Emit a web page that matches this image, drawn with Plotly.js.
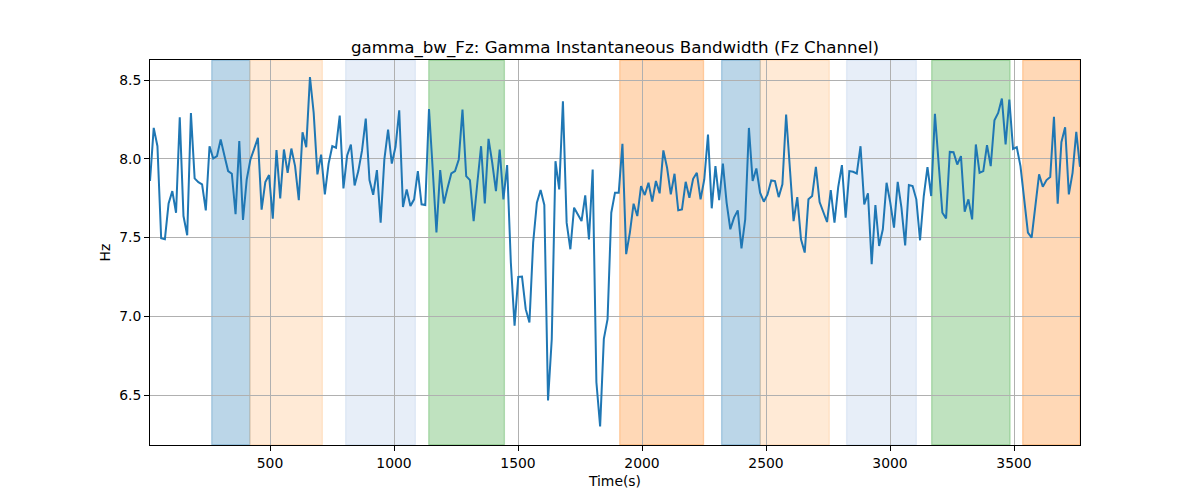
<!DOCTYPE html>
<html>
<head>
<meta charset="utf-8">
<script src="https://cdn.plot.ly/plotly-3.0.1.min.js"></script>
<style>html,body{margin:0;padding:0;background:#fff;}#chart{width:1200px;height:500px;}</style>
</head>
<body>
<div id="chart"></div>
<script>
// Sampling of the time axis (seconds)
var timeStart = 16;
var timeStep = 15;

// Gamma instantaneous bandwidth values (Hz)
var bandwidthHz = [
7.859,8.196,8.080,7.496,7.490,7.717,7.795,7.658,8.264,7.637,
7.515,8.291,7.876,7.852,7.838,7.673,8.080,8.002,8.017,8.122,
8.021,7.922,7.905,7.648,8.112,7.612,7.869,7.996,8.063,8.133,
7.677,7.852,7.897,7.620,8.055,7.749,8.059,7.911,8.065,7.954,
7.738,8.169,8.074,8.519,8.291,7.901,8.027,7.774,7.968,8.080,
8.070,8.274,7.812,8.021,8.091,7.831,7.922,8.053,8.255,7.865,
7.772,7.928,7.595,7.996,8.186,7.970,8.076,8.308,7.694,7.806,
7.700,7.743,7.922,7.711,7.707,8.316,7.932,7.532,7.928,7.717,
7.816,7.907,7.922,7.996,8.312,7.890,7.865,7.605,7.848,8.080,
7.717,8.127,7.975,7.795,8.059,7.743,7.960,7.342,6.941,7.251,
7.253,7.046,6.962,7.468,7.722,7.802,7.707,6.466,6.857,7.985,
7.806,8.365,7.595,7.426,7.690,7.648,7.605,7.768,7.489,7.932,
6.582,6.302,6.857,6.983,7.658,7.785,7.785,8.095,7.395,7.532,
7.715,7.637,7.827,7.770,7.848,7.728,7.859,7.781,8.053,7.943,
7.774,7.905,7.673,7.679,7.854,7.753,7.873,7.911,7.743,7.869,
8.154,7.686,7.954,7.738,7.970,7.722,7.553,7.627,7.673,7.432,
7.616,8.196,7.859,7.939,7.785,7.728,7.774,7.863,7.859,7.757,
7.838,8.281,7.932,7.605,7.757,7.489,7.405,7.743,7.764,7.949,
7.726,7.658,7.599,7.802,7.595,7.820,7.960,7.627,7.922,7.918,
7.907,8.080,7.711,7.781,7.331,7.707,7.447,7.553,7.848,7.722,
7.563,7.854,7.690,7.451,7.833,7.827,7.743,7.483,7.764,7.947,
7.764,8.285,7.996,7.658,7.622,8.044,8.042,7.964,8.017,7.665,
7.743,7.616,8.091,7.911,7.922,8.087,7.954,8.245,8.291,8.382,
8.091,8.376,8.063,8.074,7.954,7.743,7.532,7.500,7.717,7.901,
7.823,7.865,7.884,8.266,7.715,8.105,8.200,7.774,7.911,8.171,
7.949
];

// Shaded intervals (seconds) and their colours
var spanStart = [265, 419, 805, 1140, 1910, 2321, 2477, 2825, 3168, 3535];
var spanEnd   = [419, 711, 1086, 1445, 2248, 2477, 2755, 3106, 3484, 3766];
var spanColor = [
  'rgba(31,119,180,0.3)', 'rgba(255,187,120,0.3)', 'rgba(174,199,232,0.3)',
  'rgba(44,160,44,0.3)', 'rgba(255,127,14,0.3)', 'rgba(31,119,180,0.3)',
  'rgba(255,187,120,0.3)', 'rgba(174,199,232,0.3)', 'rgba(44,160,44,0.3)',
  'rgba(255,127,14,0.3)'
];

var xTicks = [500, 1000, 1500, 2000, 2500, 3000, 3500];
var yTicks = [6.5, 7.0, 7.5, 8.0, 8.5];

var timeS = bandwidthHz.map(function(_, i){ return timeStart + timeStep * i; });

var shapes = spanStart.map(function(s, i){
  return {type:'rect', xref:'x', yref:'paper', x0:s, x1:spanEnd[i], y0:0, y1:1,
          fillcolor:spanColor[i], line:{width:1.3, color:spanColor[i]}, layer:'below'};
});

var trace = {
  x: timeS, y: bandwidthHz, type:'scatter', mode:'lines',
  line:{color:'#1f77b4', width:2}, hoverinfo:'x+y'
};

var font = 'DejaVu Sans, Verdana, sans-serif';
var layout = {
  width:1200, height:500,
  margin:{l:150, r:120, t:60, b:55},
  paper_bgcolor:'#fff', plot_bgcolor:'rgba(0,0,0,0)',
  showlegend:false,
  font:{family:font, size:14, color:'#000'},
  title:{text:'gamma_bw_Fz: Gamma Instantaneous Bandwidth (Fz Channel)',
         font:{family:font, size:16.7, color:'#000'},
         x:0.5, xref:'paper', xanchor:'center', y:1, yref:'paper', yanchor:'bottom', pad:{b:7}},
  xaxis:{range:[timeStart, timeStart + timeStep*(bandwidthHz.length-1)],
         tickmode:'array', tickvals:xTicks, ticktext:xTicks.map(String),
         showgrid:true, gridcolor:'#b0b0b0', gridwidth:1,
         zeroline:false, showline:true, linecolor:'#000', linewidth:1, mirror:true,
         ticks:'outside', ticklen:5, tickwidth:1, tickcolor:'#000',
         tickfont:{family:font, size:13.9, color:'#000'},
         title:{text:'Time(s)', font:{family:font, size:13.9, color:'#000'}, standoff:6}},
  yaxis:{range:[6.184, 8.627],
         tickmode:'array', tickvals:yTicks, ticktext:yTicks.map(function(v){return v.toFixed(1);}),
         showgrid:true, gridcolor:'#b0b0b0', gridwidth:1,
         zeroline:false, showline:true, linecolor:'#000', linewidth:1, mirror:true,
         ticks:'outside', ticklen:5, tickwidth:1, tickcolor:'#000',
         tickfont:{family:font, size:13.9, color:'#000'},
         title:{text:'Hz', font:{family:font, size:13.9, color:'#000'}, standoff:5}},
  shapes: shapes
};

Plotly.newPlot('chart', [trace], layout, {displayModeBar:false, staticPlot:true});
</script>
</body>
</html>
